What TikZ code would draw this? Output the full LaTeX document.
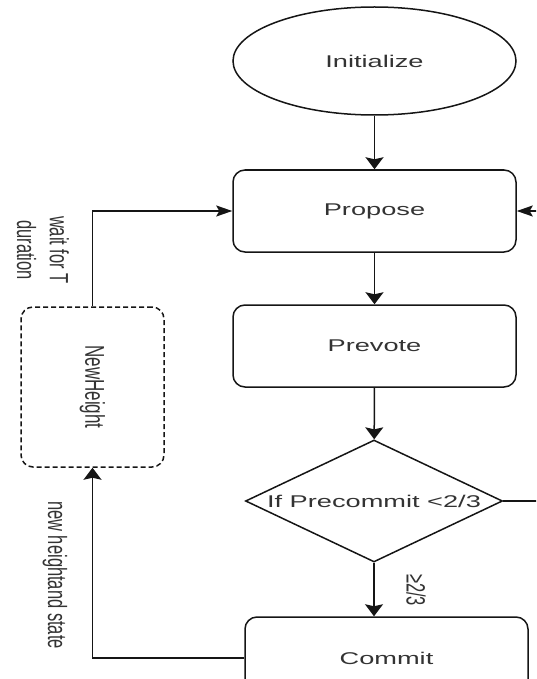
\documentclass[tikz,border=0pt]{standalone}
\usepackage{fontspec}
\setmainfont{Liberation Sans}
\usetikzlibrary{arrows.meta,shapes.geometric}
\definecolor{txt}{HTML}{333333}
\definecolor{ln}{HTML}{151515}
\newcommand\sxt[1]{\scalebox{1.6}[1]{#1}}
\begin{document}
\begin{tikzpicture}[x=1pt,y=-1pt,
  font=\fontsize{17}{20.5}\selectfont, text=txt,
  shp/.style={draw=ln, line width=1.5pt, inner sep=0pt},
  box/.style={shp, rounded corners=12pt, minimum width=283pt, minimum height=82pt},
  lbl/.style={font=\fontsize{16.5}{20.5}\selectfont, inner sep=0pt},
  varr/.style={draw=ln, line width=1.5pt, -{Stealth[length=12pt,width=18pt,inset=2pt]}},
  harr/.style={draw=ln, line width=1.5pt, -{Stealth[length=16pt,width=11pt,inset=3pt]}}]
\useasboundingbox (0,0) rectangle (536,679);
\clip (0,0) rectangle (536,679);
\node[shp, ellipse, minimum width=283pt, minimum height=108pt] (init) at (374.5,61) {\sxt{Initialize}};
\node[box] (propose) at (374.5,211) {\sxt{Propose}};
\node[box] (prevote) at (374.5,346) {\sxt{Prevote}};
\node[shp, diamond, aspect=2.1, minimum width=257pt, minimum height=122pt] (dec) at (374,501) {\makebox[0pt]{\sxt{If Precommit <2/3}}};
\node[box] (commit) at (386.5,658) {\sxt{Commit}};
\node[box, dash pattern=on 5pt off 3pt, minimum width=143pt, minimum height=160pt] (newh) at (92.5,387) {\sxt{\rotatebox{-90}{NewHeight}}};
\coordinate (rt) at (560,501);
\draw[varr] (init) -- (propose);
\draw[varr] (propose) -- (prevote);
\draw[varr] (prevote) -- (dec);
\draw[varr] (dec) -- (dec.south |- commit.north);
\draw[harr] (dec.east) -- (rt) |- (propose.east);
\draw[varr] (commit.west) -| (newh.south);
\draw[harr] (newh.north) |- (propose.west);
\node[lbl] (lwait) at (40,250) {\sxt{\rotatebox{-90}{\begin{tabular}{@{}c@{}}wait for T\\duration\end{tabular}}}};
\node[lbl] (lnew) at (55,575) {\sxt{\rotatebox{-90}{new heightand state}}};
\node[lbl] (lge) at (416,590) {\sxt{\rotatebox{-90}{≥2/3}}};
\end{tikzpicture}
\end{document}
